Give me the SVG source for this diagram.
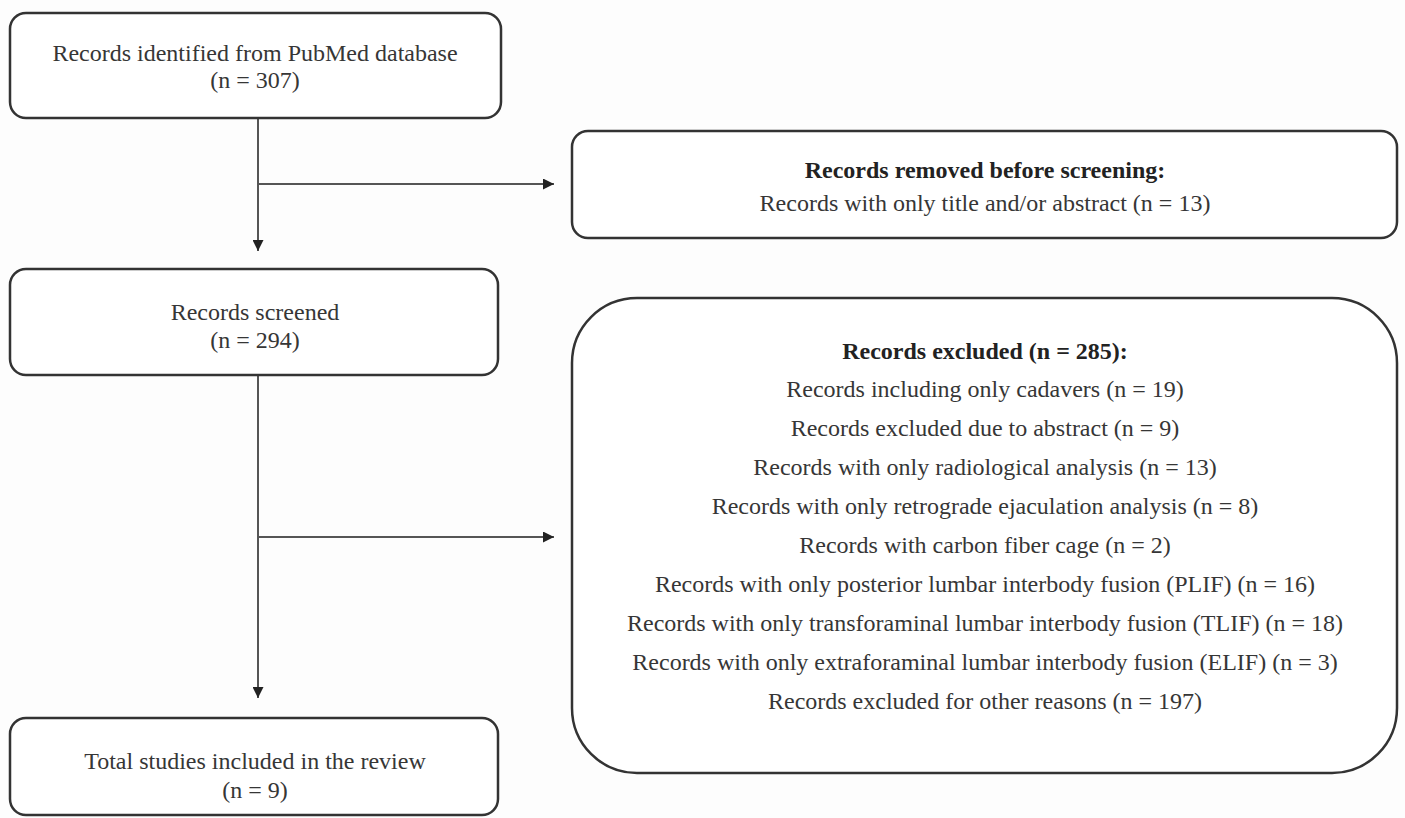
<svg xmlns="http://www.w3.org/2000/svg" width="1405" height="818" viewBox="0 0 1405 818">
<defs>
<style>
.box{fill:#ffffff;stroke:#333333;stroke-width:2.5}
.t{font-family:"Liberation Serif","Times New Roman",serif;font-size:24px;fill:#363636;text-anchor:middle}
.b{font-weight:bold;fill:#222222}
.ln{fill:none;stroke:#555555;stroke-width:2}
</style>
<marker id="ah" viewBox="0 0 10 10" refX="10" refY="5" markerWidth="13" markerHeight="11" markerUnits="userSpaceOnUse" orient="auto">
<path d="M0,0 L10,5 L0,10 z" fill="#222222"/>
</marker>
</defs>
<rect x="0" y="0" width="1405" height="818" fill="#fdfdfd"/>
<g id="connectors">
<line class="ln" x1="258" y1="118" x2="258" y2="251" marker-end="url(#ah)"/>
<line class="ln" x1="258" y1="184" x2="554" y2="184" marker-end="url(#ah)"/>
<line class="ln" x1="258" y1="375" x2="258" y2="698" marker-end="url(#ah)"/>
<line class="ln" x1="258" y1="537" x2="554" y2="537" marker-end="url(#ah)"/>
</g>
<g id="n1">
<rect class="box" x="10" y="13" width="491" height="105" rx="16"/>
<text class="t" x="255" y="61">Records identified from PubMed database</text>
<text class="t" x="255" y="88">(n = 307)</text>
</g>
<g id="n2">
<rect class="box" x="572" y="131" width="825" height="107" rx="16"/>
<text class="t b" x="985" y="178">Records removed before screening:</text>
<text class="t" x="985" y="211">Records with only title and/or abstract (n = 13)</text>
</g>
<g id="n3">
<rect class="box" x="10" y="269" width="488" height="106" rx="16"/>
<text class="t" x="255" y="320">Records screened</text>
<text class="t" x="255" y="348">(n = 294)</text>
</g>
<g id="n4">
<rect class="box" x="572" y="298" width="825" height="475" rx="65"/>
<text class="t b" x="985" y="359">Records excluded (n = 285):</text>
<text class="t" x="985" y="397">Records including only cadavers (n = 19)</text>
<text class="t" x="985" y="436">Records excluded due to abstract (n = 9)</text>
<text class="t" x="985" y="475">Records with only radiological analysis (n = 13)</text>
<text class="t" x="985" y="514">Records with only retrograde ejaculation analysis (n = 8)</text>
<text class="t" x="985" y="553">Records with carbon fiber cage (n = 2)</text>
<text class="t" x="985" y="592">Records with only posterior lumbar interbody fusion (PLIF) (n = 16)</text>
<text class="t" x="985" y="631">Records with only transforaminal lumbar interbody fusion (TLIF) (n = 18)</text>
<text class="t" x="985" y="670">Records with only extraforaminal lumbar interbody fusion (ELIF) (n = 3)</text>
<text class="t" x="985" y="709">Records excluded for other reasons (n = 197)</text>
</g>
<g id="n5">
<rect class="box" x="10" y="718" width="488" height="97" rx="16"/>
<text class="t" x="255" y="769">Total studies included in the review</text>
<text class="t" x="255" y="798">(n = 9)</text>
</g>
</svg>
